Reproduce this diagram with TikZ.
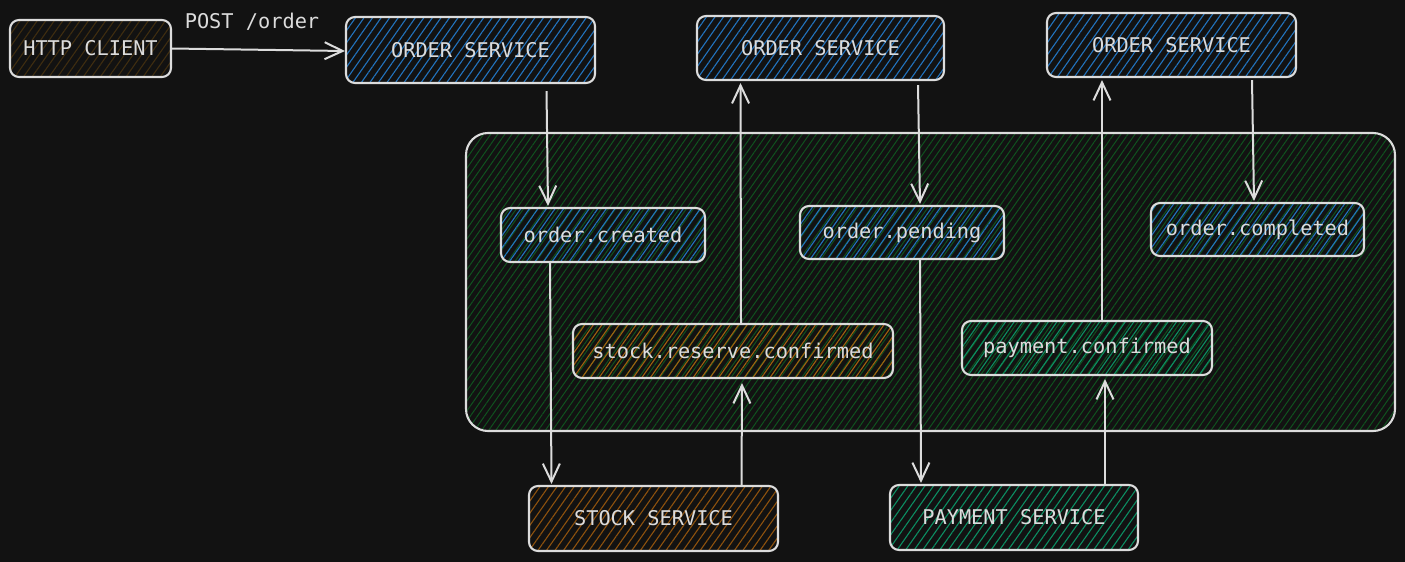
\documentclass[tikz,border=0pt]{standalone}
\usepackage{fontspec}
\setmonofont{DejaVu Sans Mono}
\usetikzlibrary{arrows.meta,patterns.meta}
\definecolor{bg}{HTML}{121212}
\definecolor{ink}{HTML}{DCDCDC}
\definecolor{hblue}{HTML}{2273BE}
\definecolor{hgreen}{HTML}{10521F}
\definecolor{horange}{HTML}{A0600F}
\definecolor{hbrown}{HTML}{8E520E}
\definecolor{hdark}{HTML}{3F2D10}
\definecolor{hteal}{HTML}{0C8E62}
\tikzset{
  box/.style={draw=ink, line width=2.1pt, rounded corners=9pt, inner sep=0pt,
    font=\ttfamily\fontsize{20.3}{21}\selectfont, text=ink,
    pattern={Lines[angle=55,distance=7pt,line width=1.1pt]}},
  blue box/.style={box, pattern color=hblue},
  arr/.style={draw=ink, line width=2pt, -{Straight Barb[length=18pt,width=17pt,line width=2pt]}},
}
\begin{document}
\begin{tikzpicture}[x=1pt,y=-1pt]
\fill[bg] (0,0) rectangle (1405,562);
\useasboundingbox (0,0) rectangle (1405,562);
% container
\node[draw=ink, line width=2.1pt, rounded corners=22pt, minimum width=929pt, minimum height=298pt,
  pattern={Lines[angle=55,distance=5.8pt,line width=1pt]}, pattern color=hgreen] (cont) at (930.5,282) {};
% nodes
\node[box, pattern color=hdark, minimum width=161pt, minimum height=57pt] (hc) at (90.5,48.5) {HTTP CLIENT};
\node[blue box, minimum width=249pt, minimum height=66pt] (os1) at (470.5,50) {ORDER SERVICE};
\node[blue box, minimum width=247pt, minimum height=64pt] (os2) at (820.5,48) {ORDER SERVICE};
\node[blue box, minimum width=249pt, minimum height=64pt] (os3) at (1171.5,45) {ORDER SERVICE};
\node[blue box, minimum width=204pt, minimum height=54pt] (oc) at (603,235) {order.created};
\node[blue box, minimum width=204pt, minimum height=53pt] (op) at (902,232.5) {order.pending};
\node[blue box, minimum width=213pt, minimum height=53pt] (ocm) at (1257.5,229.5) {order.completed};
\node[box, pattern color=horange, minimum width=320pt, minimum height=54pt] (src) at (733,351) {stock.reserve.confirmed};
\node[box, pattern color=hteal, minimum width=250pt, minimum height=54pt] (pc) at (1087,348) {payment.confirmed};
\node[box, pattern color=hbrown, minimum width=249pt, minimum height=65pt] (ss) at (653.5,518.5) {STOCK SERVICE};
\node[box, pattern color=hteal, minimum width=248pt, minimum height=65pt] (ps) at (1014,517.5) {PAYMENT SERVICE};
\node[font=\ttfamily\fontsize{20.3}{21}\selectfont, text=ink] (post) at (252,22) {POST /order};
% connectors
\draw[arr] (hc.east) -- ([yshift=-1pt]os1.west);
\draw[arr] ([xshift=76pt,yshift=-7pt]os1.south) -- ([xshift=-55pt,yshift=1pt]oc.north);
\draw[arr] ([xshift=-53pt]oc.south) -- ([xshift=-102pt,yshift=1pt]ss.north);
\draw[arr] ([xshift=88pt]ss.north) -- ([xshift=9pt,yshift=-4pt]src.south);
\draw[arr] ([xshift=8pt]src.north) -- ([xshift=-80pt,yshift=-2pt]os2.south);
\draw[arr] ([xshift=97.5pt,yshift=-4pt]os2.south) -- ([xshift=18pt,yshift=1pt]op.north);
\draw[arr] ([xshift=18pt]op.south) -- ([xshift=-93pt,yshift=1pt]ps.north);
\draw[arr] ([xshift=91pt]ps.north) -- ([xshift=18pt,yshift=-3pt]pc.south);
\draw[arr] ([xshift=15pt]pc.north) -- ([xshift=-69.5pt,yshift=-2pt]os3.south);
\draw[arr] ([xshift=80.5pt,yshift=-2pt]os3.south) -- ([xshift=-3.5pt,yshift=1pt]ocm.north);
\end{tikzpicture}
\end{document}
